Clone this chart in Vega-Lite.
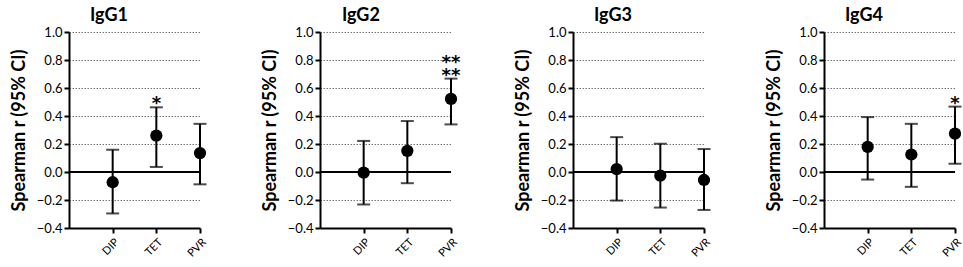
{
  "$schema": "https://vega.github.io/schema/vega-lite/v6.json",
  "background": "white",
  "padding": {"left": 10, "top": 7, "right": 4, "bottom": 5},
  "config": {
    "font": "Lato",
    "view": {"stroke": null},
    "concat": {"spacing": 53},
    "title": {"fontSize": 18, "fontWeight": "bold", "frame": "bounds", "anchor": "middle", "color": "black", "offset": 1},
    "axisY": {
      "domainColor": "black", "domainWidth": 2, "tickColor": "black", "tickWidth": 2, "tickSize": 5,
      "labelFontSize": 13, "labelColor": "black", "labelPadding": 2,
      "titleFontSize": 18, "titleFontWeight": "bold", "titleColor": "black", "titlePadding": 8,
      "gridColor": "#777777", "gridDash": [1.5, 1.5], "gridWidth": 1,
      "values": [-0.4, -0.2, 0, 0.2, 0.4, 0.6, 0.8, 1.0], "format": ".1f"
    },
    "axisX": {
      "domainColor": "black", "domainWidth": 2, "tickColor": "black", "tickWidth": 2, "tickSize": 5,
      "labelFontSize": 11, "labelColor": "black", "labelAngle": -45, "labelPadding": 3, "grid": false, "title": null
    }
  },
  "data": {
    "values": [
      {"panel": "IgG1", "antigen": "DIP", "r": -0.073, "lower": -0.296, "upper": 0.159, "sig": ""},
      {"panel": "IgG1", "antigen": "TET", "r": 0.26, "lower": 0.036, "upper": 0.462, "sig": "*"},
      {"panel": "IgG1", "antigen": "PVR", "r": 0.135, "lower": -0.088, "upper": 0.344, "sig": ""},
      {"panel": "IgG2", "antigen": "DIP", "r": -0.005, "lower": -0.232, "upper": 0.222, "sig": ""},
      {"panel": "IgG2", "antigen": "TET", "r": 0.151, "lower": -0.08, "upper": 0.364, "sig": ""},
      {"panel": "IgG2", "antigen": "PVR", "r": 0.522, "lower": 0.34, "upper": 0.667, "sig": "**\n**"},
      {"panel": "IgG3", "antigen": "DIP", "r": 0.021, "lower": -0.204, "upper": 0.249, "sig": ""},
      {"panel": "IgG3", "antigen": "TET", "r": -0.026, "lower": -0.254, "upper": 0.202, "sig": ""},
      {"panel": "IgG3", "antigen": "PVR", "r": -0.057, "lower": -0.271, "upper": 0.164, "sig": ""},
      {"panel": "IgG4", "antigen": "DIP", "r": 0.179, "lower": -0.054, "upper": 0.392, "sig": ""},
      {"panel": "IgG4", "antigen": "TET", "r": 0.125, "lower": -0.106, "upper": 0.344, "sig": ""},
      {"panel": "IgG4", "antigen": "PVR", "r": 0.274, "lower": 0.059, "upper": 0.467, "sig": "*"}
    ]
  },
  "hconcat": [
    {
      "title": "IgG1", "width": 131, "height": 196,
      "transform": [{"filter": "datum.panel === 'IgG1'"}],
      "layer": [
        {"mark": {"type": "rule", "color": "black", "strokeWidth": 2}, "encoding": {"y": {"datum": 0, "type": "quantitative", "scale": {"domain": [-0.4, 1.0]}, "axis": {"title": "Spearman r (95% CI)", "grid": true}}}},
        {"mark": {"type": "rule", "color": "black", "strokeWidth": 2}, "encoding": {"x": {"field": "antigen", "type": "ordinal", "sort": ["DIP", "TET", "PVR"], "scale": {"type": "point", "padding": 0.5, "align": 1}}, "y": {"field": "lower", "type": "quantitative"}, "y2": {"field": "upper"}}},
        {"mark": {"type": "tick", "color": "black", "thickness": 2, "size": 13, "orient": "horizontal"}, "encoding": {"x": {"field": "antigen", "type": "ordinal", "sort": ["DIP", "TET", "PVR"]}, "y": {"field": "lower", "type": "quantitative"}}},
        {"mark": {"type": "tick", "color": "black", "thickness": 2, "size": 13, "orient": "horizontal"}, "encoding": {"x": {"field": "antigen", "type": "ordinal", "sort": ["DIP", "TET", "PVR"]}, "y": {"field": "upper", "type": "quantitative"}}},
        {"mark": {"type": "point", "filled": true, "color": "black", "opacity": 1, "size": 150}, "encoding": {"x": {"field": "antigen", "type": "ordinal", "sort": ["DIP", "TET", "PVR"]}, "y": {"field": "r", "type": "quantitative"}}},
        {"mark": {"type": "text", "font": "DejaVu Sans", "fontSize": 18, "fontWeight": "bold", "baseline": "bottom", "dy": 6, "lineBreak": "\n", "lineHeight": 13, "color": "black"}, "encoding": {"x": {"field": "antigen", "type": "ordinal", "sort": ["DIP", "TET", "PVR"]}, "y": {"field": "upper", "type": "quantitative"}, "text": {"field": "sig"}}}
      ]
    },
    {
      "title": "IgG2", "width": 131, "height": 196,
      "transform": [{"filter": "datum.panel === 'IgG2'"}],
      "layer": [
        {"mark": {"type": "rule", "color": "black", "strokeWidth": 2}, "encoding": {"y": {"datum": 0, "type": "quantitative", "scale": {"domain": [-0.4, 1.0]}, "axis": {"title": "Spearman r (95% CI)", "grid": true}}}},
        {"mark": {"type": "rule", "color": "black", "strokeWidth": 2}, "encoding": {"x": {"field": "antigen", "type": "ordinal", "sort": ["DIP", "TET", "PVR"], "scale": {"type": "point", "padding": 0.5, "align": 1}}, "y": {"field": "lower", "type": "quantitative"}, "y2": {"field": "upper"}}},
        {"mark": {"type": "tick", "color": "black", "thickness": 2, "size": 13, "orient": "horizontal"}, "encoding": {"x": {"field": "antigen", "type": "ordinal", "sort": ["DIP", "TET", "PVR"]}, "y": {"field": "lower", "type": "quantitative"}}},
        {"mark": {"type": "tick", "color": "black", "thickness": 2, "size": 13, "orient": "horizontal"}, "encoding": {"x": {"field": "antigen", "type": "ordinal", "sort": ["DIP", "TET", "PVR"]}, "y": {"field": "upper", "type": "quantitative"}}},
        {"mark": {"type": "point", "filled": true, "color": "black", "opacity": 1, "size": 150}, "encoding": {"x": {"field": "antigen", "type": "ordinal", "sort": ["DIP", "TET", "PVR"]}, "y": {"field": "r", "type": "quantitative"}}},
        {"mark": {"type": "text", "font": "DejaVu Sans", "fontSize": 18, "fontWeight": "bold", "baseline": "bottom", "dy": -7, "lineBreak": "\n", "lineHeight": 13, "color": "black"}, "encoding": {"x": {"field": "antigen", "type": "ordinal", "sort": ["DIP", "TET", "PVR"]}, "y": {"field": "upper", "type": "quantitative"}, "text": {"field": "sig"}}}
      ]
    },
    {
      "title": "IgG3", "width": 131, "height": 196,
      "transform": [{"filter": "datum.panel === 'IgG3'"}],
      "layer": [
        {"mark": {"type": "rule", "color": "black", "strokeWidth": 2}, "encoding": {"y": {"datum": 0, "type": "quantitative", "scale": {"domain": [-0.4, 1.0]}, "axis": {"title": "Spearman r (95% CI)", "grid": true}}}},
        {"mark": {"type": "rule", "color": "black", "strokeWidth": 2}, "encoding": {"x": {"field": "antigen", "type": "ordinal", "sort": ["DIP", "TET", "PVR"], "scale": {"type": "point", "padding": 0.5, "align": 1}}, "y": {"field": "lower", "type": "quantitative"}, "y2": {"field": "upper"}}},
        {"mark": {"type": "tick", "color": "black", "thickness": 2, "size": 13, "orient": "horizontal"}, "encoding": {"x": {"field": "antigen", "type": "ordinal", "sort": ["DIP", "TET", "PVR"]}, "y": {"field": "lower", "type": "quantitative"}}},
        {"mark": {"type": "tick", "color": "black", "thickness": 2, "size": 13, "orient": "horizontal"}, "encoding": {"x": {"field": "antigen", "type": "ordinal", "sort": ["DIP", "TET", "PVR"]}, "y": {"field": "upper", "type": "quantitative"}}},
        {"mark": {"type": "point", "filled": true, "color": "black", "opacity": 1, "size": 150}, "encoding": {"x": {"field": "antigen", "type": "ordinal", "sort": ["DIP", "TET", "PVR"]}, "y": {"field": "r", "type": "quantitative"}}},
        {"mark": {"type": "text", "font": "DejaVu Sans", "fontSize": 18, "fontWeight": "bold", "baseline": "bottom", "dy": 6, "lineBreak": "\n", "lineHeight": 13, "color": "black"}, "encoding": {"x": {"field": "antigen", "type": "ordinal", "sort": ["DIP", "TET", "PVR"]}, "y": {"field": "upper", "type": "quantitative"}, "text": {"field": "sig"}}}
      ]
    },
    {
      "title": "IgG4", "width": 131, "height": 196,
      "transform": [{"filter": "datum.panel === 'IgG4'"}],
      "layer": [
        {"mark": {"type": "rule", "color": "black", "strokeWidth": 2}, "encoding": {"y": {"datum": 0, "type": "quantitative", "scale": {"domain": [-0.4, 1.0]}, "axis": {"title": "Spearman r (95% CI)", "grid": true}}}},
        {"mark": {"type": "rule", "color": "black", "strokeWidth": 2}, "encoding": {"x": {"field": "antigen", "type": "ordinal", "sort": ["DIP", "TET", "PVR"], "scale": {"type": "point", "padding": 0.5, "align": 1}}, "y": {"field": "lower", "type": "quantitative"}, "y2": {"field": "upper"}}},
        {"mark": {"type": "tick", "color": "black", "thickness": 2, "size": 13, "orient": "horizontal"}, "encoding": {"x": {"field": "antigen", "type": "ordinal", "sort": ["DIP", "TET", "PVR"]}, "y": {"field": "lower", "type": "quantitative"}}},
        {"mark": {"type": "tick", "color": "black", "thickness": 2, "size": 13, "orient": "horizontal"}, "encoding": {"x": {"field": "antigen", "type": "ordinal", "sort": ["DIP", "TET", "PVR"]}, "y": {"field": "upper", "type": "quantitative"}}},
        {"mark": {"type": "point", "filled": true, "color": "black", "opacity": 1, "size": 150}, "encoding": {"x": {"field": "antigen", "type": "ordinal", "sort": ["DIP", "TET", "PVR"]}, "y": {"field": "r", "type": "quantitative"}}},
        {"mark": {"type": "text", "font": "DejaVu Sans", "fontSize": 18, "fontWeight": "bold", "baseline": "bottom", "dy": 6, "lineBreak": "\n", "lineHeight": 13, "color": "black"}, "encoding": {"x": {"field": "antigen", "type": "ordinal", "sort": ["DIP", "TET", "PVR"]}, "y": {"field": "upper", "type": "quantitative"}, "text": {"field": "sig"}}}
      ]
    }
  ]
}
